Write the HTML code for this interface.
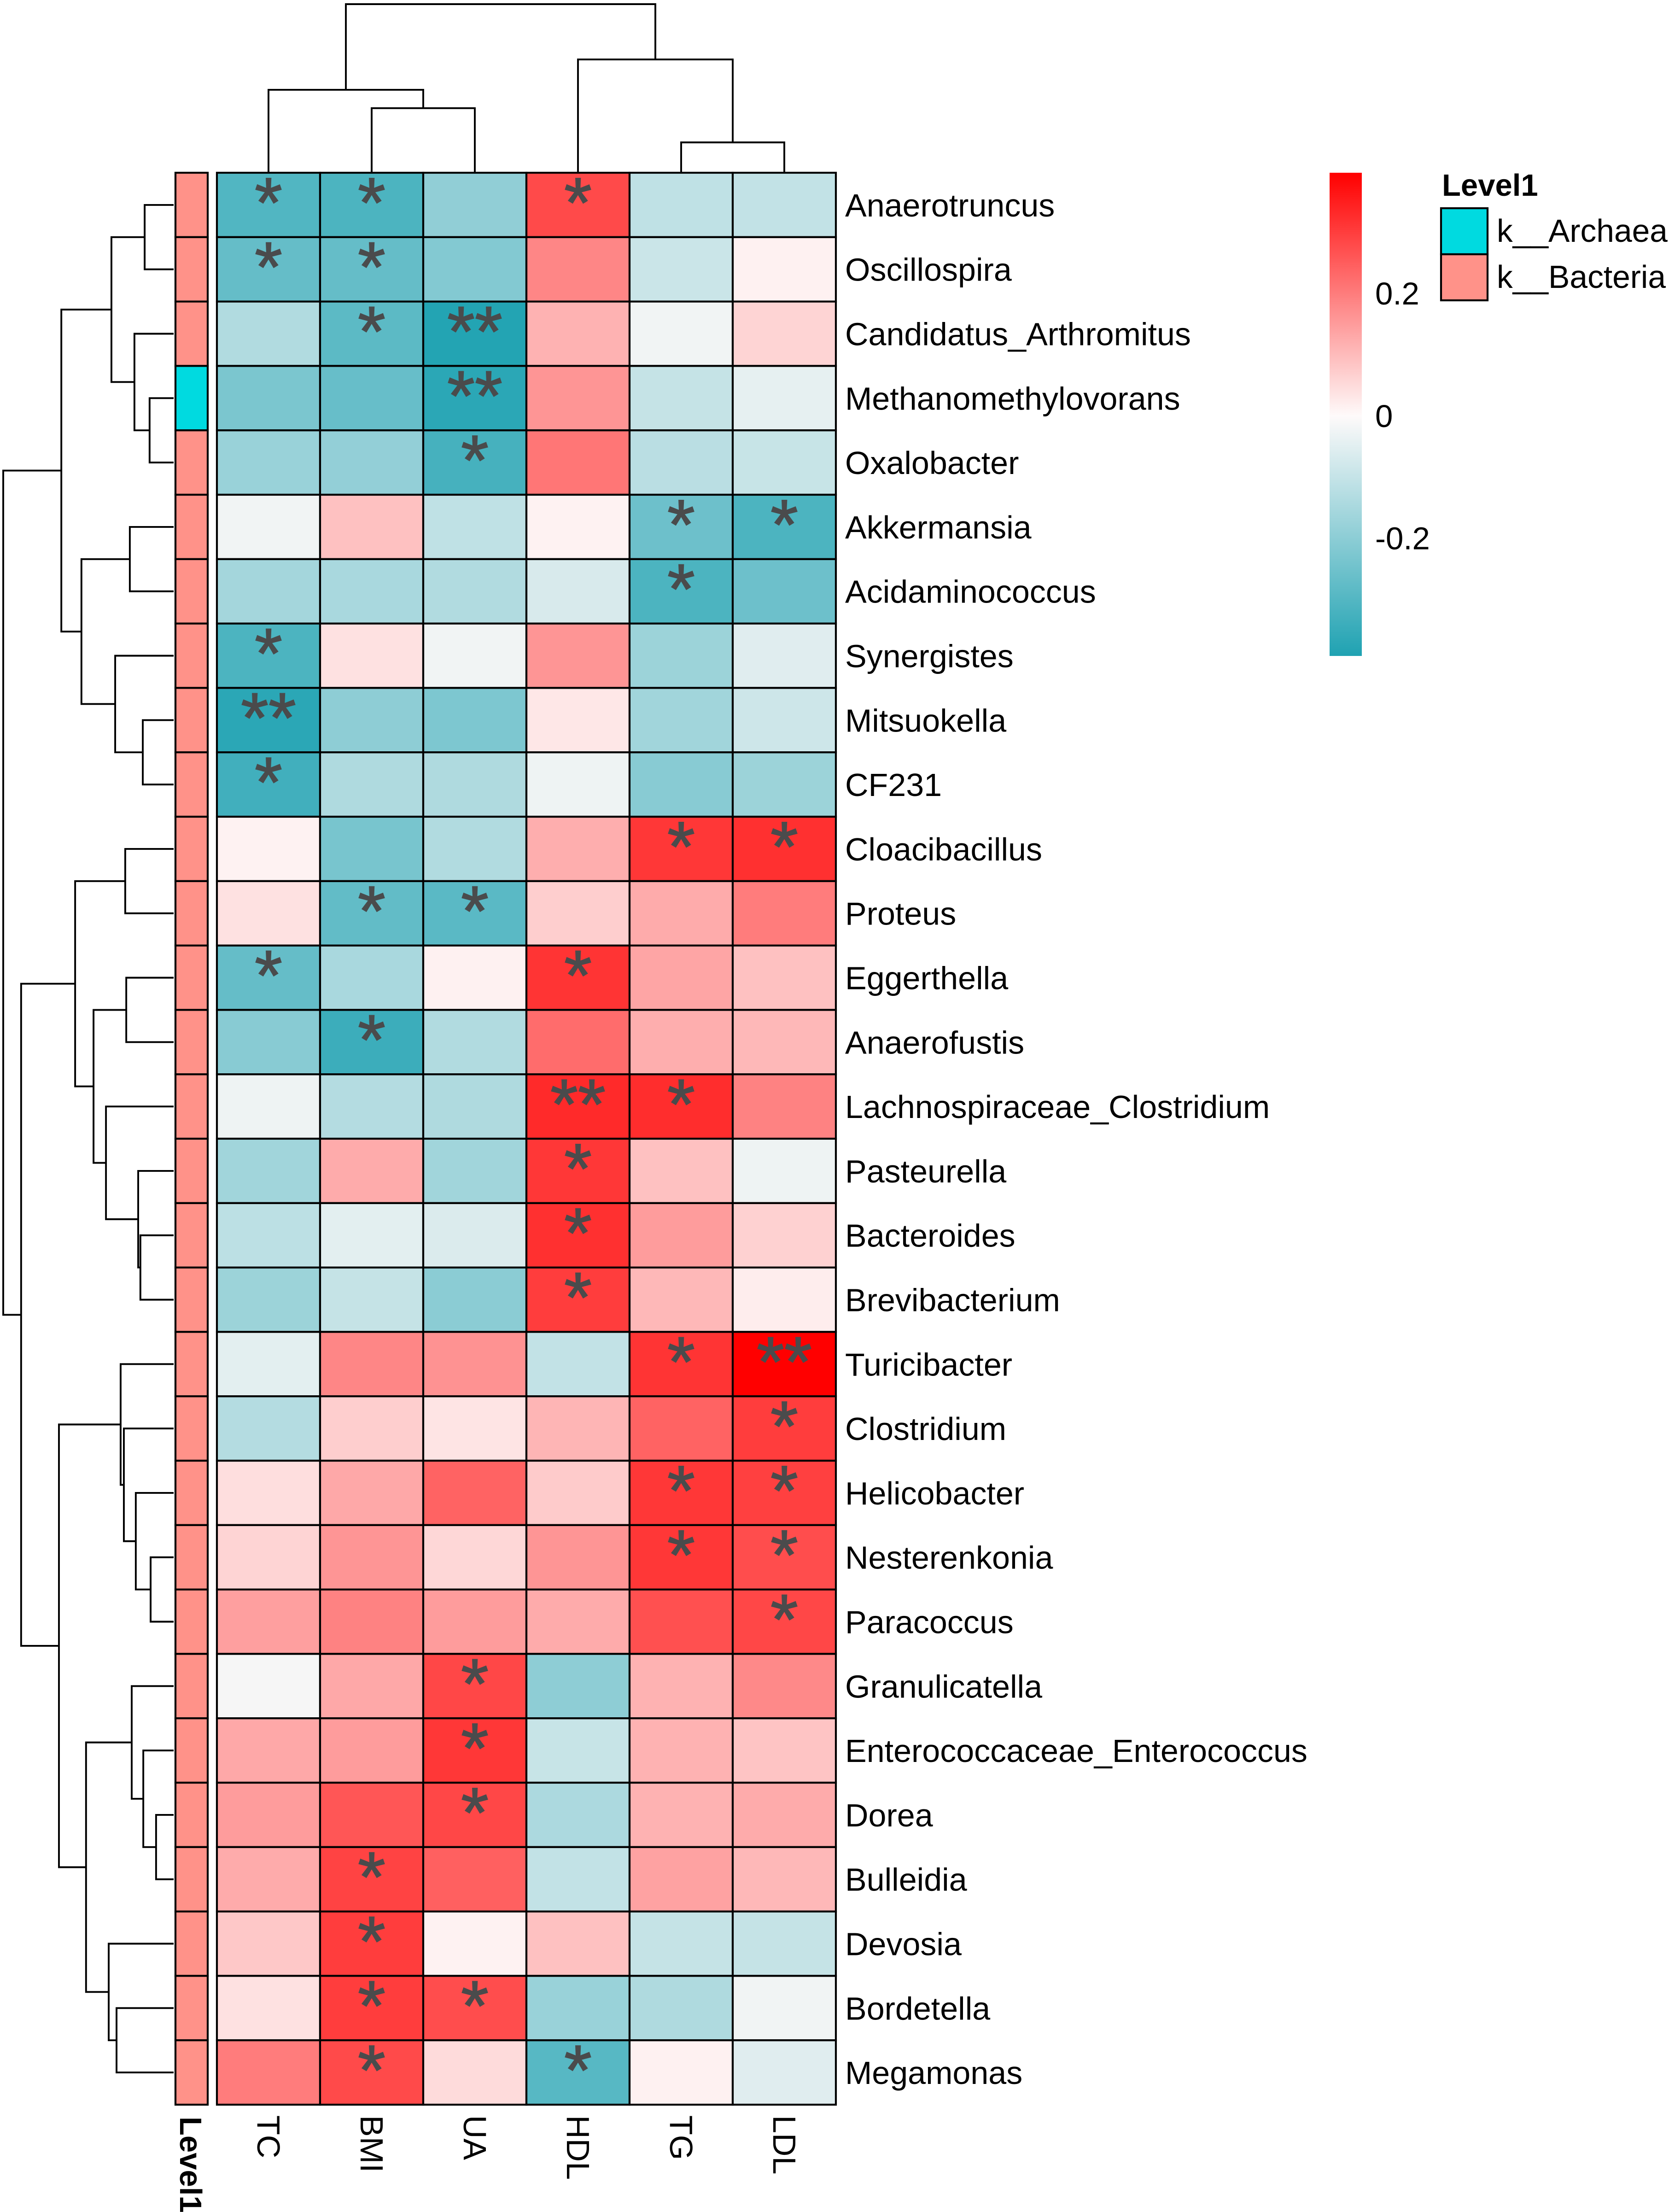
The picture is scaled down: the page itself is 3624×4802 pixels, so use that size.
<!DOCTYPE html>
<html lang="en">
<head>
<meta charset="utf-8">
<title>Genus and clinical-index correlation heatmap</title>
<style>
html,body{margin:0;padding:0;background:#fff;}
svg{display:block;}
text{font-family:"Liberation Sans",Arial,sans-serif;fill:#000;}
</style>
</head>
<body>
<svg id="chart" xmlns="http://www.w3.org/2000/svg" width="3624" height="4802" viewBox="0 0 3624 4802">
  <defs>
    <linearGradient id="colorbar-gradient" x1="0" y1="0" x2="0" y2="1">
      <stop id="stop-top" offset="0"></stop>
      <stop id="stop-mid" offset="0.5"></stop>
      <stop id="stop-bottom" offset="1"></stop>
    </linearGradient>
  </defs>
  <rect x="0" y="0" width="3624" height="4802" fill="#ffffff"></rect>
  <g id="col-tree"></g>
  <g id="row-tree"></g>
  <g id="annotation"></g>
  <g id="cells"></g>
  <g id="stars"></g>
  <g id="row-labels"></g>
  <g id="col-labels"></g>
  <g id="colorbar"></g>
  <g id="level-legend"></g>
</svg>
<script>
const rowLabels = ["Anaerotruncus","Oscillospira","Candidatus_Arthromitus","Methanomethylovorans","Oxalobacter","Akkermansia","Acidaminococcus","Synergistes","Mitsuokella","CF231","Cloacibacillus","Proteus","Eggerthella","Anaerofustis","Lachnospiraceae_Clostridium","Pasteurella","Bacteroides","Brevibacterium","Turicibacter","Clostridium","Helicobacter","Nesterenkonia","Paracoccus","Granulicatella","Enterococcaceae_Enterococcus","Dorea","Bulleidia","Devosia","Bordetella","Megamonas"];
const colLabels = ["TC","BMI","UA","HDL","TG","LDL"];
// correlation per row, in colLabels order
const correlations = [
[-0.30,-0.31,-0.185,0.28,-0.10,-0.095],
[-0.265,-0.265,-0.21,0.185,-0.08,0.015],
[-0.125,-0.28,-0.385,0.115,-0.01,0.06],
[-0.225,-0.26,-0.37,0.16,-0.09,-0.03],
[-0.17,-0.18,-0.32,0.21,-0.11,-0.085],
[-0.01,0.09,-0.10,0.012,-0.25,-0.31],
[-0.15,-0.14,-0.125,-0.055,-0.31,-0.25],
[-0.31,0.04,-0.01,0.16,-0.165,-0.04],
[-0.37,-0.19,-0.22,0.03,-0.155,-0.075],
[-0.33,-0.13,-0.13,-0.015,-0.20,-0.165],
[0.012,-0.23,-0.125,0.12,0.31,0.32],
[0.04,-0.27,-0.285,0.07,0.125,0.20],
[-0.265,-0.14,0.015,0.315,0.135,0.09],
[-0.20,-0.34,-0.125,0.225,0.12,0.105],
[-0.015,-0.12,-0.13,0.33,0.325,0.19],
[-0.155,0.125,-0.155,0.31,0.09,-0.015],
[-0.105,-0.035,-0.05,0.32,0.15,0.065],
[-0.165,-0.09,-0.195,0.30,0.105,0.02],
[-0.035,0.185,0.165,-0.095,0.315,0.397],
[-0.12,0.07,0.035,0.11,0.24,0.30],
[0.045,0.13,0.24,0.075,0.31,0.295],
[0.06,0.16,0.055,0.16,0.31,0.275],
[0.145,0.19,0.15,0.125,0.27,0.285],
[0,0.13,0.285,-0.19,0.115,0.18],
[0.13,0.15,0.31,-0.085,0.115,0.085],
[0.15,0.26,0.285,-0.135,0.115,0.125],
[0.125,0.29,0.245,-0.095,0.14,0.105],
[0.08,0.30,0.012,0.09,-0.09,-0.09],
[0.04,0.30,0.275,-0.17,-0.13,-0.01],
[0.20,0.28,0.05,-0.29,0.015,-0.04]
];
// number of significance stars per row, in colLabels order
const starCounts = [
[1,1,0,1,0,0],[1,1,0,0,0,0],[0,1,2,0,0,0],[0,0,2,0,0,0],[0,0,1,0,0,0],
[0,0,0,0,1,1],[0,0,0,0,1,0],[1,0,0,0,0,0],[2,0,0,0,0,0],[1,0,0,0,0,0],
[0,0,0,0,1,1],[0,1,1,0,0,0],[1,0,0,1,0,0],[0,1,0,0,0,0],[0,0,0,2,1,0],
[0,0,0,1,0,0],[0,0,0,1,0,0],[0,0,0,1,0,0],[0,0,0,0,1,2],[0,0,0,0,0,1],
[0,0,0,0,1,1],[0,0,0,0,1,1],[0,0,0,0,0,1],[0,0,1,0,0,0],[0,0,1,0,0,0],
[0,0,1,0,0,0],[0,1,0,0,0,0],[0,1,0,0,0,0],[0,1,1,0,0,0],[0,1,0,1,0,0]
];
// index into levelNames for each row
const rowLevels = [1,1,1,0,1,1,1,1,1,1,1,1,1,1,1,1,1,1,1,1,1,1,1,1,1,1,1,1,1,1];
const levelNames = ["k__Archaea","k__Bacteria"];
const levelColors = ["#00DAE0","#FF9289"];
const colorbarTicks = [0.2,0,-0.2];
const colorMin = -0.392;
const colorMax = 0.397;
// hclust-style merges: [left, right, height]. Non-negative n = leaf n; "m" + k = merge k (1-based).
const rowMerges = [
[0,1,0.170],[3,4,0.141],[2,"m2",0.230],["m1","m3",0.365],[5,6,0.257],[8,9,0.181],[7,"m6",0.343],["m5","m7",0.541],["m4","m8",0.659],
[10,11,0.284],[12,13,0.278],[16,17,0.195],[15,"m12",0.208],[14,"m13",0.397],["m11","m14",0.470],["m10","m15",0.578],
[21,22,0.135],[20,"m17",0.222],[19,"m18",0.292],[18,"m19",0.311],[25,26,0.103],[24,"m21",0.178],[23,"m22",0.246],
[28,29,0.335],[27,"m24",0.381],["m23","m25",0.514],["m20","m26",0.673],["m16","m27",0.895],["m9","m28",1.0]
];
const colMerges = [
[1,2,0.383],[4,5,0.180],[3,"m2",0.672],[0,"m1",0.492],["m4","m3",1.0]
];

/* layout */
const gridLeft = 471, gridTop = 375, cellW = 224, cellH = 139.8;
const stripLeft = 381, stripW = 70;
const rowTreeBase = 377, rowTreeSpan = 370;
const colTreeBase = 375, colTreeSpan = 366;
const barX = 2887, barW = 70, barTop = 375, barBottom = 1424;

const NS = "http://www.w3.org/2000/svg";
function el(parentId, tag, attrs, txt){
  const e = document.createElementNS(NS, tag);
  for (const k in attrs) e.setAttribute(k, attrs[k]);
  if (txt !== undefined) e.textContent = txt;
  document.getElementById(parentId).appendChild(e);
  return e;
}
const xCol = i => gridLeft + cellW * i;
const yRow = i => gridTop + cellH * i;
const xRowTree = h => rowTreeBase - rowTreeSpan * h;
const yColTree = h => colTreeBase - colTreeSpan * h;
const yBar = v => barTop + (barBottom - barTop) * (colorMax - v) / (colorMax - colorMin);

const LOW = [31,162,178], MID_LOW = [246,246,246], MID_HIGH = [254,250,250], HIGH = [255,0,0];
function rgb(c){ return "rgb(" + c.map(Math.round).join(",") + ")"; }
function colorScale(v){
  const end = v > 0 ? HIGH : LOW;
  const mid = v > 0 ? MID_HIGH : MID_LOW;
  const t = v > 0 ? Math.min(1, v / colorMax) : Math.min(1, v / colorMin);
  return rgb(mid.map((m, i) => m + (end[i] - m) * t));
}

/* heatmap cells, stars, labels */
correlations.forEach((row, r) => {
  row.forEach((v, c) => {
    const cell = el("cells", "rect", {x: xCol(c), y: yRow(r), width: cellW, height: cellH, fill: colorScale(v), stroke: "#000", "stroke-width": 4.2});
    
    
    const n = starCounts[r][c];
    if (n > 0) {
      const s = el("stars", "text", {x: xCol(c) + cellW / 2, y: yRow(r) + cellH / 2 + 48, "text-anchor": "middle", "font-size": 154, style: "fill:#4a4b4c;stroke:#4a4b4c;stroke-width:2"}, "*".repeat(n));
      
      
    }
  });
  const strip = el("annotation", "rect", {x: stripLeft, y: yRow(r), width: stripW, height: cellH, fill: levelColors[rowLevels[r]], stroke: "#000", "stroke-width": 4.2});
  
  
  const lab = el("row-labels", "text", {x: 1835, y: yRow(r) + cellH / 2 + 25, "font-size": 70}, rowLabels[r]);
  
  
});

colLabels.forEach((name, c) => {
  const bx = xCol(c) + cellW / 2 - 24;
  const t = el("col-labels", "text", {x: bx, y: 4592, "font-size": 70, transform: "rotate(90 " + bx + " 4592)"}, name);
  
  
});
const levelAxis = el("col-labels", "text", {x: 391, y: 4595, "font-size": 67, "font-weight": "bold", transform: "rotate(90 391 4595)"}, "Level1");



/* dendrograms */
function drawTree(merges, parentId, leafPos, heightPos, horizontal){
  const nodes = {};
  const get = ref => typeof ref === "string" ? nodes[ref] : {pos: leafPos(ref), h: 0};
  merges.forEach((m, i) => {
    const a = get(m[0]), b = get(m[1]);
    const hp = heightPos(m[2]);
    const ha = heightPos(a.h), hb = heightPos(b.h);
    const d = horizontal
      ? "M" + ha + " " + a.pos + "L" + hp + " " + a.pos + "L" + hp + " " + b.pos + "L" + hb + " " + b.pos
      : "M" + a.pos + " " + ha + "L" + a.pos + " " + hp + "L" + b.pos + " " + hp + "L" + b.pos + " " + hb;
    const p = el(parentId, "path", {d: d, fill: "none", stroke: "#000", "stroke-width": 3.9, "stroke-linejoin": "miter"});
    
    
    nodes["m" + (i + 1)] = {pos: (a.pos + b.pos) / 2, h: m[2]};
  });
}
drawTree(rowMerges, "row-tree", i => yRow(i) + cellH / 2, xRowTree, true);
drawTree(colMerges, "col-tree", i => xCol(i) + cellW / 2, yColTree, false);

/* colorbar */
document.getElementById("stop-top").setAttribute("stop-color", rgb(HIGH));
document.getElementById("stop-mid").setAttribute("stop-color", rgb(MID_HIGH));
document.getElementById("stop-mid").setAttribute("offset", (yBar(0) - barTop) / (barBottom - barTop));
document.getElementById("stop-bottom").setAttribute("stop-color", rgb(LOW));
const bar = el("colorbar", "rect", {x: barX, y: barTop, width: barW, height: barBottom - barTop, fill: "url(#colorbar-gradient)"});


colorbarTicks.forEach(v => {
  const t = el("colorbar", "text", {x: 2986, y: yBar(v) + 24, "font-size": 69}, String(v));
  
  
});

/* level legend */
const lt = el("level-legend", "text", {x: 3131, y: 425, "font-size": 67, "font-weight": "bold"}, "Level1");


levelNames.forEach((name, i) => {
  const sw = el("level-legend", "rect", {x: 3129, y: 452 + 100 * i, width: 101, height: 100, fill: levelColors[i], stroke: "#000", "stroke-width": 4.2});
  
  
  const t = el("level-legend", "text", {x: 3250, y: 525 + 100 * i, "font-size": 69.5}, name);
  
  
});
</script>
</body>
</html>
